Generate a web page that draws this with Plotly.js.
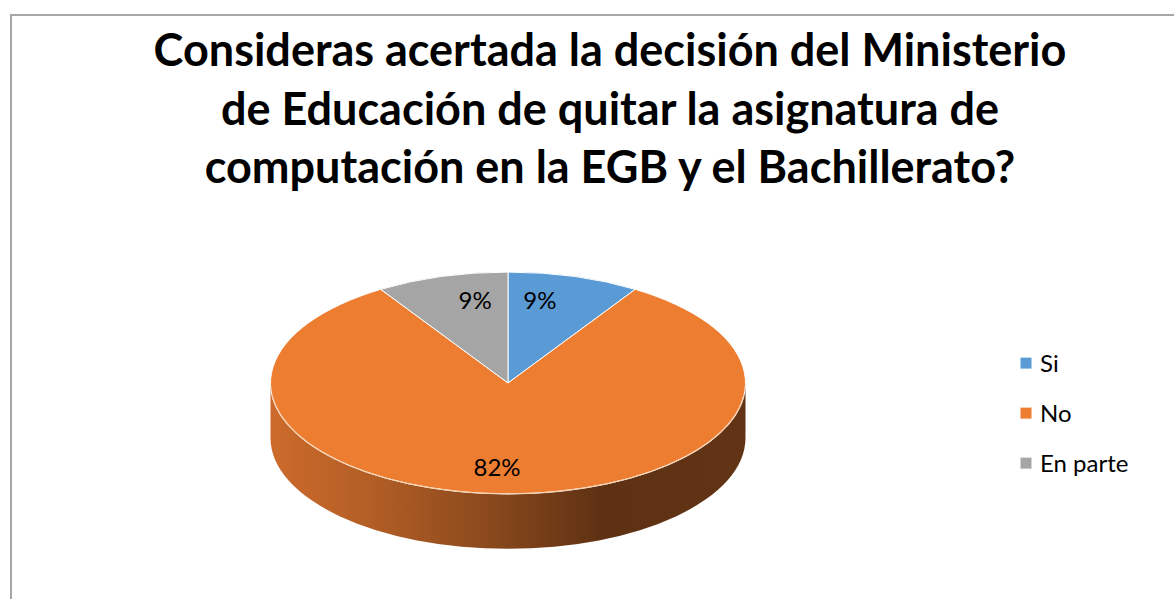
<!DOCTYPE html>
<html><head><meta charset="utf-8">
<script src="https://cdn.plot.ly/plotly-3.0.1.min.js"></script>
<style>
html,body{margin:0;padding:0;background:#fff;overflow:hidden;width:1174px;height:599px;}
#frame{position:absolute;left:10px;top:14px;width:1300px;height:800px;border:2px solid #a6a6a6;box-sizing:border-box;}
#chart{position:absolute;left:0;top:0;width:1174px;height:599px;}
</style></head><body>
<div id="frame"></div><div id="chart"></div>
<script>
// ---- data ----
const categories = ['Si', 'No', 'En parte'];
const values = [9, 82, 9];
const sliceColors = ['#5B9BD5', '#ED7D31', '#A5A5A5'];
const titleLines = [
  'Consideras acertada la decisión del Ministerio',
  'de Educación de quitar la asignatura de',
  'computación en la EGB y el Bachillerato?'
];

// ---- 3D look (styling only) ----
const TILT = 0.467;      // vertical squash of the pie top
const TOP_CY = 383;      // centre of the top ellipse (px)
const DEPTH = 55;        // thickness of the pie (px)
const LEGEND_STEP = 50;  // vertical step between legend entries (px)
const LABEL_NUDGE = [[-20, 0], [-11, 28], [19, 0]]; // per-slice label nudges (px)

const gd = document.getElementById('chart');
const FONT = 'Lato, Carlito, Calibri, "Open Sans", sans-serif';

const data = [{
  type: 'pie',
  labels: categories,
  values: values,
  sort: false,
  direction: 'clockwise',
  rotation: 0,
  marker: {colors: sliceColors, line: {color: '#ffffff', width: 1}},
  textinfo: 'percent',
  texttemplate: '%{percent:.0%}',
  textposition: 'inside',
  insidetextorientation: 'horizontal',
  textfont: {family: FONT, size: 24, color: '#000000'},
  hoverinfo: 'skip',
  domain: {x: [(508 - 237.5) / 1174, (508 + 237.5) / 1174], y: [0.1, 0.9]}
}];

const layout = {
  width: 1174, height: 599,
  margin: {l: 0, r: 0, t: 0, b: 0},
  paper_bgcolor: 'rgba(0,0,0,0)',
  plot_bgcolor: 'rgba(0,0,0,0)',
  showlegend: true,
  title: {
    text: titleLines.join('<br>'),
    font: {family: FONT, size: 45, color: '#000000', weight: 'bold'},
    x: 610 / 1174, xanchor: 'center',
    y: 1 - 66 / 599, yanchor: 'top'
  },
  legend: {
    x: 1006 / 1174, xanchor: 'left',
    y: 1 - 341 / 599, yanchor: 'top',
    font: {family: FONT, size: 24, color: '#000000'},
    bgcolor: 'rgba(0,0,0,0)'
  }
};

const NS = 'http://www.w3.org/2000/svg';
function make3D() {
  const traceG = gd.querySelector('.pielayer .trace');
  if (!traceG) return;
  const cd0 = gd.calcdata && gd.calcdata[0] && gd.calcdata[0][0];
  let cx, cy, r;
  if (cd0 && cd0.cx !== undefined) { cx = cd0.cx; cy = cd0.cy; r = cd0.r; }
  else {
    let minX = 1e9, maxX = -1e9, minY = 1e9, maxY = -1e9;
    traceG.querySelectorAll('path.surface').forEach(p => {
      const b = p.getBBox();
      minX = Math.min(minX, b.x); maxX = Math.max(maxX, b.x + b.width);
      minY = Math.min(minY, b.y); maxY = Math.max(maxY, b.y + b.height);
    });
    cx = (minX + maxX) / 2; cy = (minY + maxY) / 2; r = (maxX - minX) / 2;
  }
  const ry = r * TILT;
  const ty = TOP_CY - TILT * cy;

  // squash the top surfaces
  traceG.querySelectorAll('path.surface').forEach(p => {
    p.setAttribute('transform', 'matrix(1,0,0,' + TILT + ',0,' + ty + ')');
    p.style.vectorEffect = 'non-scaling-stroke';
  });
  // move the labels with the squash
  traceG.querySelectorAll('g.slice').forEach((s, i) => {
    const t = s.querySelector('g.slicetext text');
    if (!t) return;
    const b = t.getBoundingClientRect();
    const yc = b.top + b.height / 2;
    const nud = LABEL_NUDGE[i] || [0, 0];
    const dy = (TILT * yc + ty) - yc + nud[1];
    const old = t.getAttribute('transform') || '';
    t.setAttribute('transform', 'translate(' + nud[0] + ',' + dy + ') ' + old);
  });

  // gradient for the side
  const svg = gd.querySelector('svg.main-svg');
  let defs = svg.querySelector('defs');
  if (!defs) { defs = document.createElementNS(NS, 'defs'); svg.insertBefore(defs, svg.firstChild); }
  const grad = document.createElementNS(NS, 'linearGradient');
  grad.setAttribute('id', 'pieSideGrad');
  grad.setAttribute('x1', '0'); grad.setAttribute('x2', '1');
  grad.setAttribute('y1', '0'); grad.setAttribute('y2', '0');
  [['0', '#CC6A2B'], ['0.2', '#B45F26'], ['0.45', '#8C4A1D'], ['0.7', '#5E3113'], ['1', '#623415']].forEach(s => {
    const st = document.createElementNS(NS, 'stop');
    st.setAttribute('offset', s[0]); st.setAttribute('stop-color', s[1]);
    grad.appendChild(st);
  });
  defs.appendChild(grad);

  const L = cx - r, R = cx + r, Y = TOP_CY, Yb = TOP_CY + DEPTH;
  const side = document.createElementNS(NS, 'path');
  side.setAttribute('d',
    'M' + L + ',' + Y + 'L' + L + ',' + Yb +
    'A' + r + ',' + ry + ' 0 0 0 ' + R + ',' + Yb +
    'L' + R + ',' + Y +
    'A' + r + ',' + ry + ' 0 0 1 ' + L + ',' + Y + 'Z');
  side.setAttribute('fill', 'url(#pieSideGrad)');
  traceG.insertBefore(side, traceG.firstChild);

  // light rim along the front edge of the top
  const rim = document.createElementNS(NS, 'path');
  const a0 = 0.12;
  const x0 = cx - r * Math.cos(a0), y0 = Y + ry * Math.sin(a0);
  const x1 = cx + r * Math.cos(a0), y1 = Y + ry * Math.sin(a0);
  rim.setAttribute('d', 'M' + x0 + ',' + y0 + 'A' + r + ',' + ry + ' 0 0 0 ' + x1 + ',' + y1);
  rim.setAttribute('fill', 'none');
  rim.setAttribute('stroke', '#F6D2B3');
  rim.setAttribute('stroke-width', '1.3');
  traceG.appendChild(rim);

  // legend: no clipping, wider spacing, text closer to the swatch
  gd.querySelectorAll('.legend [clip-path]').forEach(el => el.removeAttribute('clip-path'));
  const items = gd.querySelectorAll('.legend .traces');
  let baseY = null;
  items.forEach((it, i) => {
    const m = /translate\(\s*([-\d.]+)[ ,]+([-\d.]+)\s*\)/.exec(it.getAttribute('transform') || '');
    if (!m) return;
    const x = parseFloat(m[1]), y = parseFloat(m[2]);
    if (baseY === null) baseY = y;
    it.setAttribute('transform', 'translate(' + x + ',' + (baseY + i * LEGEND_STEP) + ')');
    const txt = it.querySelector('text.legendtext');
    if (txt) {
      const tx = parseFloat(txt.getAttribute('x') || '40');
      txt.setAttribute('x', tx - 6);
      txt.querySelectorAll('tspan').forEach(ts => { if (ts.getAttribute('x')) ts.setAttribute('x', tx - 6); });
    }
  });
}

Plotly.newPlot(gd, data, layout, {staticPlot: true, displayModeBar: false}).then(make3D);
</script>
</body></html>
